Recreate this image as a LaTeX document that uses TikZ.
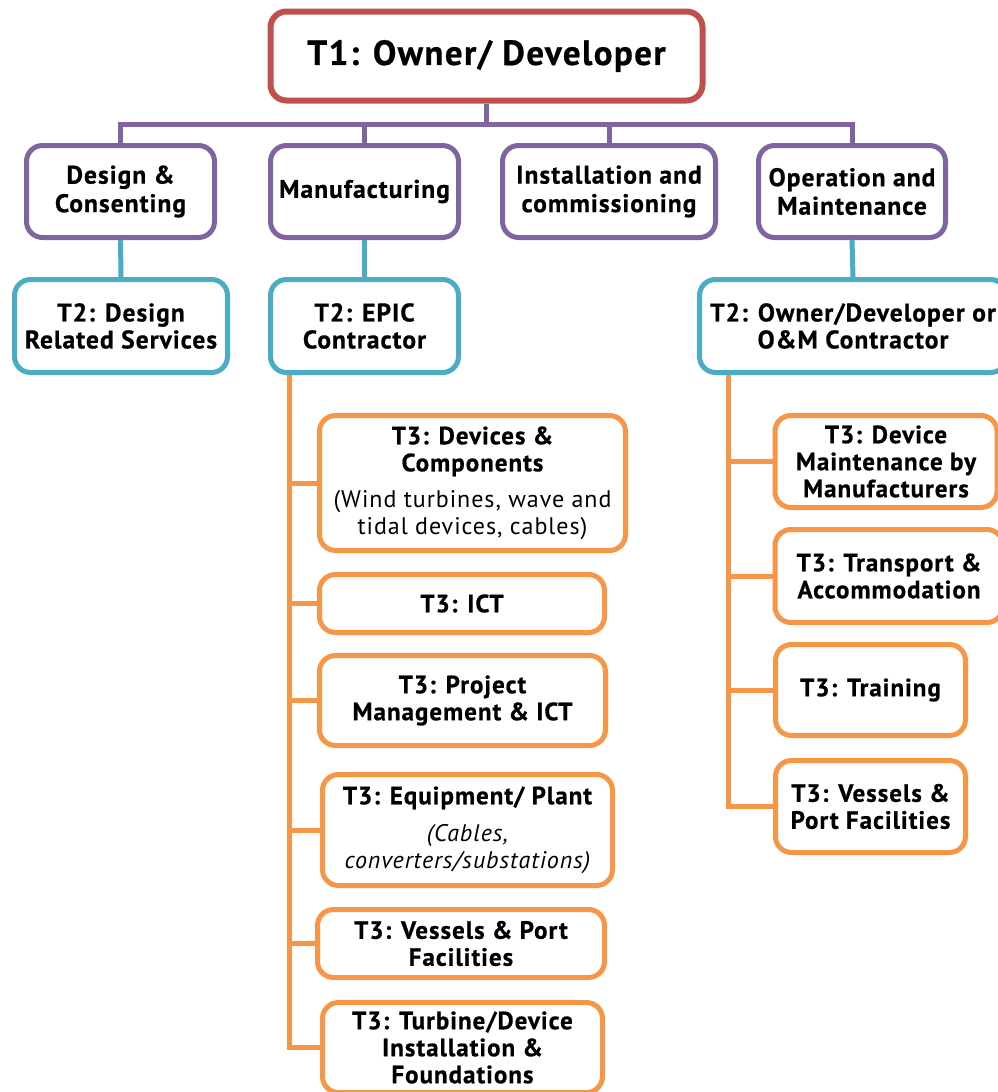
\documentclass[tikz,border=0pt]{standalone}
\usepackage{fontspec}
\setmainfont{PT Sans}[LetterSpace=4,BoldFeatures={FakeBold=0.6}]
\definecolor{cred}{HTML}{C0504D}
\definecolor{cpurp}{HTML}{8064A2}
\definecolor{cblue}{HTML}{4BACC6}
\definecolor{corange}{HTML}{F79646}
\begin{document}
\begin{tikzpicture}[x=1pt,y=-1pt,
 box/.style={draw, rounded corners=16pt, line width=5pt, fill=white, inner sep=0pt, align=center, text=black},
 t1box/.style={box, draw=cred, line width=6pt, font=\bfseries\fontsize{35}{40}\selectfont},
 l2box/.style={box, draw=cpurp, font=\bfseries\fontsize{25.5}{28.5}\selectfont},
 t2box/.style={box, draw=cblue, font=\bfseries\fontsize{25.5}{27}\selectfont},
 t3box/.style={box, draw=corange, font=\bfseries\fontsize{25}{27}\selectfont},
 pline/.style={draw=cpurp, line width=5pt},
 bline/.style={draw=cblue, line width=5pt},
 oline/.style={draw=corange, line width=5pt},
]
\useasboundingbox (0,0) rectangle (998,1092);
\clip (0,0) rectangle (998,1092);
\fill[white] (0,0) rectangle (998,1092);

% coordinates for bars and trunks
\coordinate (bar) at (0,124);
\coordinate (trunkL) at (289,0);
\coordinate (trunkR) at (728,0);

% Level 1
\node[t1box, minimum width=432pt, minimum height=89pt] (t1) at (486.5,56) {T1: Owner/ Developer};

% Level 2
\node[l2box, minimum width=188pt, minimum height=92pt] (design) at (120.5,191.5) {Design \&\\Consenting};
\node[l2box, minimum width=188pt, minimum height=92pt] (manu) at (364.5,191.5) {Manufacturing};
\node[l2box, minimum width=213pt, minimum height=92pt] (inst) at (609,191.5) {Installation and\\commissioning};
\node[l2box, minimum width=187pt, minimum height=92pt] (ops) at (852,191.5) {Operation and\\Maintenance};

% T2
\node[t2box, minimum width=213pt, minimum height=93pt] (t2d) at (121,326) {T2: Design\\Related Services};
\node[t2box, minimum width=188pt, minimum height=93pt] (t2e) at (364.5,326) {T2: EPIC\\Contractor};
\node[t2box, minimum width=307pt, minimum height=93pt] (t2o) at (853,326) {T2: Owner/Developer or\\O\&M Contractor};

% T3 left column
\node[t3box, minimum width=306pt, minimum height=135pt] (dev) at (472.5,483) {T3: Devices \&\\Components\\[9pt]\mdseries\fontsize{24}{27}\selectfont (Wind turbines, wave and\\\mdseries\fontsize{24}{27}\selectfont tidal devices, cables)};
\node[t3box, minimum width=285pt, minimum height=58pt] (ict) at (462,603.5) {T3: ICT};
\node[t3box, minimum width=286pt, minimum height=90pt] (pm) at (462.5,700.5) {T3: Project\\Management \& ICT};
\node[t3box, minimum width=290pt, minimum height=111pt] (equip) at (467.5,830) {T3: Equipment/ Plant\\[10pt]\mdseries\itshape\fontsize{24}{26}\selectfont (Cables,\\\mdseries\itshape\fontsize{24}{26}\selectfont converters/substations)};
\node[t3box, minimum width=287pt, minimum height=68pt] (vesl) at (461,943.5) {T3: Vessels \& Port\\Facilities};
\node[t3box, minimum width=280pt, minimum height=90pt] (turb) at (462.5,1047.5) {T3: Turbine/Device\\Installation \&\\Foundations};

% T3 right column
\node[t3box, minimum width=222pt, minimum height=92pt] (maint) at (886,461.5) {T3: Device\\Maintenance by\\Manufacturers};
\node[t3box, minimum width=228pt, minimum height=93pt] (trans) at (889,576) {T3: Transport \&\\Accommodation};
\node[t3box, minimum width=190pt, minimum height=91pt] (train) at (870.5,690) {T3: Training};
\node[t3box, minimum width=190pt, minimum height=92pt] (vesr) at (870.5,806.5) {T3: Vessels \&\\Port Facilities};

% Level 1 -> Level 2 connectors
\draw[pline] (t1.south) -- (t1.south |- bar);
\draw[pline] (design.north) |- (bar -| ops.north) -- (ops.north);
\draw[pline] (manu.north) -- (manu.north |- bar);
\draw[pline] (inst.north) -- (inst.north |- bar);

% Level 2 -> T2 connectors
\draw[bline] (design.south) -- (t2d.north);
\draw[bline] (manu.south) -- (t2e.north);
\draw[bline] (ops.south) -- (t2o.north);

% T2 -> T3 left
\draw[oline] (t2e.south -| trunkL) |- (turb.west);
\draw[oline] (dev.west) -- (dev.west -| trunkL);
\draw[oline] (ict.west) -- (ict.west -| trunkL);
\draw[oline] (pm.west) -- (pm.west -| trunkL);
\draw[oline] (equip.west) -- (equip.west -| trunkL);
\draw[oline] (vesl.west) -- (vesl.west -| trunkL);

% T2 -> T3 right
\draw[oline] (t2o.south -| trunkR) |- (vesr.west);
\draw[oline] (maint.west) -- (maint.west -| trunkR);
\draw[oline] (trans.west) -- (trans.west -| trunkR);
\draw[oline] (train.west) -- (train.west -| trunkR);
\end{tikzpicture}
\end{document}
